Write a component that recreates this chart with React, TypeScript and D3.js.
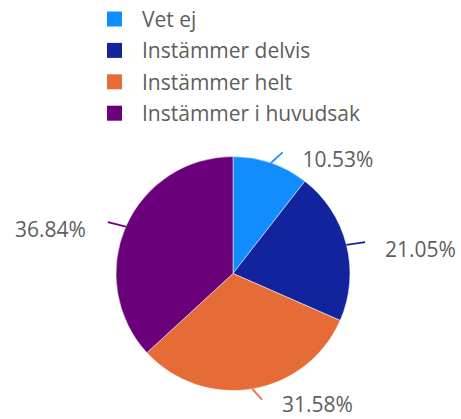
import React from "react";
import * as d3 from "d3";

const categories = ["Vet ej", "Instämmer delvis", "Instämmer helt", "Instämmer i huvudsak"];
const counts = [2, 4, 6, 7];
const percentLabels = ["10.53%", "21.05%", "31.58%", "36.84%"];
const colors = ["#118DFF", "#12239E", "#E66C37", "#6B007B"];

const W = 461;
const H = 419;
const cx = 233;
const cy = 273.5;
const R = 117;
const textColor = "#605E5C";
const font = "'Segoe UI', 'Open Sans', sans-serif";

export default function App() {
  const pie = d3.pie<number>().sort(null).value((d) => d);
  const arcs = pie(counts);
  const arc = d3.arc<d3.PieArcDatum<number>>().innerRadius(0).outerRadius(R);

  return (
    <svg width={W} height={H} style={{ position: "absolute", left: 0, top: 0, background: "#fff" }}>
      <g>
        {categories.map((c, i) => {
          const y = 19 + i * 31.4;
          return (
            <g key={c}>
              <rect x={107} y={y - 7.5} width={15} height={15} fill={colors[i]} />
              <text x={142} y={y} dominantBaseline="central" fontFamily={font} fontSize={21} fill={textColor}>
                {c}
              </text>
            </g>
          );
        })}
      </g>
      <g transform={`translate(${cx},${cy})`}>
        {arcs.map((a, i) => (
          <path key={i} d={arc(a) || ""} fill={colors[i]} stroke="#fff" strokeWidth={0.5} />
        ))}
        {arcs.map((a, i) => {
          const mid = (a.startAngle + a.endAngle) / 2;
          const sx = Math.sin(mid) * R;
          const sy = -Math.cos(mid) * R;
          const right = sx >= 0;
          const ex = Math.sin(mid) * (R + 11) + (right ? 8 : -8);
          const ey = -Math.cos(mid) * (R + 11);
          return (
            <g key={"l" + i}>
              <line x1={sx} y1={sy} x2={ex} y2={ey} stroke={colors[i]} strokeWidth={1.8} />
              <text
                x={right ? ex + 20 : ex - 22}
                y={ey + (sy > 0 ? 4 : 7)}
                textAnchor={right ? "start" : "end"}
                dominantBaseline="central"
                fontFamily={font}
                fontSize={21}
                fill={textColor}
              >
                {percentLabels[i]}
              </text>
            </g>
          );
        })}
      </g>
    </svg>
  );
}
